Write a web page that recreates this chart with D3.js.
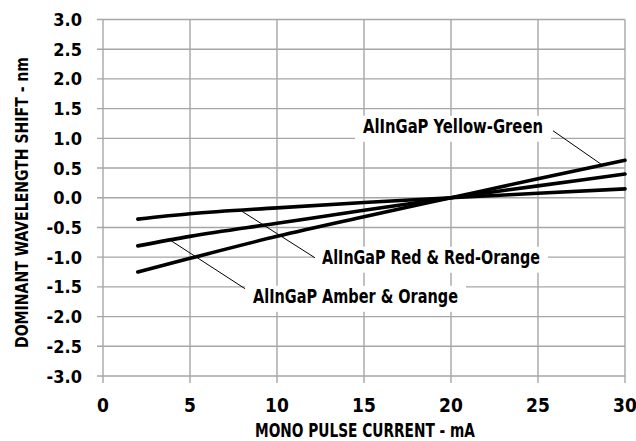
<!DOCTYPE html>
<html>
<head>
<meta charset="utf-8">
<script src="https://cdn.jsdelivr.net/npm/d3@7"></script>
<style>
  body { margin: 0; background: #fff; }
  text { font-family: "DejaVu Sans Condensed", "Liberation Sans Narrow", sans-serif; font-weight: bold; fill: #000; }
</style>
</head>
<body>
<div id="chart"></div>
<script>
// current in mA
const currents = [2, 5, 10, 15, 20, 25, 30];

// wavelength shift in nm
const yellowGreen = [-1.25, -1.02, -0.65, -0.32, 0, 0.32, 0.63];
const amberOrange = [-0.81, -0.65, -0.43, -0.21, 0, 0.20, 0.40];
const redOrange   = [-0.36, -0.27, -0.17, -0.08, 0, 0.075, 0.15];

const xTicks = [0, 5, 10, 15, 20, 25, 30];
const yTicks = [-3, -2.5, -2, -1.5, -1, -0.5, 0, 0.5, 1, 1.5, 2, 2.5, 3];

// label text, anchor on curve (mA), label start (mA, nm), leader end (mA, nm)
const labels = [
    {text: "AlInGaP Yellow-Green", series: yellowGreen, at: 28.7, lx: 14.94, ly: 1.094, ex: 25.86, ey: 1.128, len: 180},
    {text: "AlInGaP Red & Red-Orange", series: redOrange, at: 7.9, lx: 12.59, ly: -1.111, ex: 12.18, ey: -1.01, len: 218},
    {text: "AlInGaP Amber & Orange", series: amberOrange, at: 3.85, lx: 8.62, ly: -1.768, ex: 8.16, ey: -1.53, len: 205}
];

const width = 636, height = 441;
const margin = {top: 19.5, right: 11, bottom: 65, left: 103};

const svg = d3.select("#chart").append("svg")
    .attr("width", width)
    .attr("height", height);

const x = d3.scaleLinear().domain([0, 30]).range([margin.left, width - margin.right]);
const y = d3.scaleLinear().domain([-3, 3]).range([height - margin.bottom, margin.top]);

// grid
svg.append("g").selectAll("line").data(yTicks).enter().append("line")
    .attr("x1", x(0) - 6).attr("x2", x(30))
    .attr("y1", d => y(d)).attr("y2", d => y(d))
    .attr("stroke", "#a6a6a6").attr("stroke-width", 1.4);

svg.append("g").selectAll("line").data(xTicks).enter().append("line")
    .attr("x1", d => x(d)).attr("x2", d => x(d))
    .attr("y1", y(3)).attr("y2", y(-3) + 7)
    .attr("stroke", "#a6a6a6").attr("stroke-width", 1.4);

// tick labels
svg.append("g").selectAll("text").data(yTicks).enter().append("text")
    .attr("x", x(0) - 21)
    .attr("y", d => y(d) + 6.5)
    .attr("text-anchor", "end")
    .style("font-size", "18px")
    .text(d => d3.format(".1f")(d).replace("−", "-"));

svg.append("g").selectAll("text").data(xTicks).enter().append("text")
    .attr("x", d => x(d))
    .attr("y", y(-3) + 36)
    .attr("text-anchor", "middle")
    .style("font-size", "19px")
    .text(d => d);

// axis titles
svg.append("text")
    .attr("x", 255).attr("y", 437)
    .attr("textLength", 220)
    .attr("lengthAdjust", "spacingAndGlyphs")
    .style("font-size", "20px")
    .text("MONO PULSE CURRENT - mA");

svg.append("text")
    .attr("transform", "translate(28,348) rotate(-90)")
    .attr("textLength", 291)
    .attr("lengthAdjust", "spacingAndGlyphs")
    .style("font-size", "18px")
    .text("DOMINANT WAVELENGTH SHIFT - nm");

// curves
const line = d3.line()
    .x((d, i) => x(currents[i]))
    .y(d => y(d))
    .curve(d3.curveMonotoneX);

[yellowGreen, amberOrange, redOrange].forEach(function(s) {
    svg.append("path")
        .datum(s)
        .attr("d", line)
        .attr("fill", "none")
        .attr("stroke", "#000")
        .attr("stroke-width", 3.6)
        .attr("stroke-linecap", "round");
});

// value on a series at current c
function valueAt(s, c) {
    const i = d3.bisectRight(currents, c) - 1;
    const t = (c - currents[i]) / (currents[i + 1] - currents[i]);
    return s[i] + t * (s[i + 1] - s[i]);
}

// labels with white boxes and leaders
labels.forEach(function(d) {
    const g = svg.append("g");
    g.append("text")
        .attr("x", x(d.lx)).attr("y", y(d.ly))
        .attr("textLength", d.len)
        .attr("lengthAdjust", "spacingAndGlyphs")
        .style("font-size", "19px")
        .text(d.text);
    g.insert("rect", "text")
        .attr("x", x(d.lx) - 8).attr("y", y(d.ly) - 17)
        .attr("width", d.len + 16).attr("height", 26)
        .attr("fill", "#fff");

    svg.append("line")
        .attr("x1", x(d.at)).attr("y1", y(valueAt(d.series, d.at)))
        .attr("x2", x(d.ex)).attr("y2", y(d.ey))
        .attr("stroke", "#000").attr("stroke-width", 1);
});
</script>
</body>
</html>
